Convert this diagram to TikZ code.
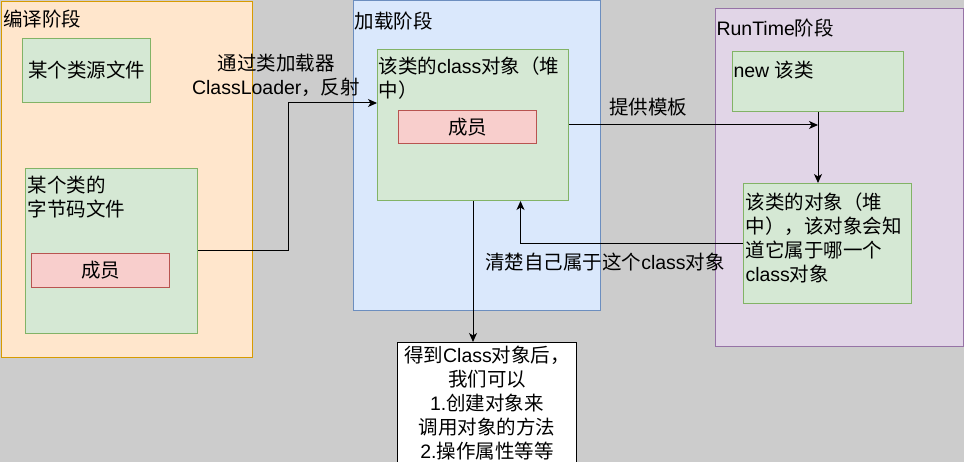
\documentclass[tikz,border=0pt]{standalone}
\usepackage{fontspec}
\usepackage{tikz}
\usepackage{xcolor}
\usetikzlibrary{arrows.meta}
\setmainfont{Liberation Sans}
\newfontfamily\cjkfont{Noto Sans CJK SC}
\newfontfamily\latinfont{Liberation Sans}
% switch to the CJK font for Chinese characters
\XeTeXinterchartokenstate=1
\newXeTeXintercharclass\CJKclass
\newcount\charidx
\newcommand\setcjkrange[2]{\charidx=#1\relax\loop\XeTeXcharclass\charidx=\CJKclass\advance\charidx by 1\relax\ifnum\charidx<#2\repeat}
\setcjkrange{"3000}{"3040}
\setcjkrange{"4E00}{"A000}
\setcjkrange{"FF00}{"FFF0}
\XeTeXinterchartoks 0 \CJKclass = {\cjkfont}
\XeTeXinterchartoks 4095 \CJKclass = {\cjkfont}
\XeTeXinterchartoks \CJKclass 0 = {\latinfont}
\XeTeXinterchartoks \CJKclass 4095 = {\latinfont}
\definecolor{GrayBG}{HTML}{CCCCCC}
\definecolor{OrangeNC}{HTML}{FFE6CC}
\definecolor{DarkOrangeNC}{HTML}{D79B00}
\definecolor{BlueNC}{HTML}{DAE8FC}
\definecolor{DarkBlueNC}{HTML}{6C8EBF}
\definecolor{PurpleNC}{HTML}{E1D5E7}
\definecolor{DarkPurpleNC}{HTML}{9673A6}
\definecolor{GreenNC}{HTML}{D5E8D4}
\definecolor{DarkGreenNC}{HTML}{82B366}
\definecolor{RedNC}{HTML}{F8CECC}
\definecolor{DarkRedNC}{HTML}{B85450}
\tikzstyle{mynodestyle} = [rectangle, inner sep=0pt, anchor=north west, text=black]
\tikzstyle{ob} = [mynodestyle, draw=DarkOrangeNC, fill=OrangeNC]
\tikzstyle{bb} = [mynodestyle, draw=DarkBlueNC, fill=BlueNC]
\tikzstyle{pb} = [mynodestyle, draw=DarkPurpleNC, fill=PurpleNC]
\tikzstyle{gb} = [mynodestyle, draw=DarkGreenNC, fill=GreenNC]
\tikzstyle{rb} = [mynodestyle, draw=DarkRedNC, fill=RedNC]
\tikzstyle{wb} = [mynodestyle, draw=black, fill=white, align=center]
\tikzstyle{tl} = [anchor=north west, inner sep=0pt, align=left, text=black]
\tikzset{>={Stealth[length=9pt,width=8pt,inset=2.5pt]}, every picture/.style={line width=1pt}}
\begin{document}
\begin{tikzpicture}[x=1pt, y=-1pt, font=\fontsize{19.5}{24}\selectfont]
\useasboundingbox (0,0) rectangle (964,462);
\fill[GrayBG] (0,0) rectangle (964,462);
\clip (0,0) rectangle (964,462);
% stages
\node[ob, minimum width=251, minimum height=356] (comp) at (0.5,1) {};
\node[bb, minimum width=247, minimum height=310] (load) at (353,0.5) {};
\node[pb, minimum width=248, minimum height=338] (run) at (715,8) {};
\node[tl] (comptxt) at ([shift={(2,9)}]comp.north west) {编译阶段};
\node[tl] (loadtxt) at ([shift={(1,11)}]load.north west) {加载阶段};
\node[tl] (runtxt) at ([shift={(1,11)}]run.north west) {RunTime阶段};
% boxes
\node[gb, minimum width=128, minimum height=64] (src) at (22,38) {某个类源文件};
\node[gb, minimum width=172, minimum height=165] (byte) at (25,168) {};
\node[tl] (bytetxt) at ([shift={(2,8)}]byte.north west) {某个类的\\字节码文件};
\node[rb, minimum width=138, minimum height=34] (mem1) at (31,253) {成员};
\node[gb, minimum width=191, minimum height=151] (cls) at (377,49) {};
\node[tl] (clstxt) at ([shift={(1,7)}]cls.north west) {该类的class对象（堆\\中）};
\node[rb, minimum width=138, minimum height=33] (mem2) at (398,110) {成员};
\node[gb, minimum width=171, minimum height=60] (newobj) at (732,51) {};
\node[tl] (newtxt) at ([shift={(1,10)}]newobj.north west) {new 该类};
\node[gb, minimum width=168, minimum height=120] (obj) at (743,183) {};
\node[tl] (objtxt) at ([shift={(2,9)}]obj.north west) {该类的对象（堆\\中），该对象会知\\道它属于哪一个\\class对象};
\node[wb, minimum width=179, minimum height=121] (result) at (397,342) {得到Class对象后，\\我们可以\\1.创建对象来\\调用对象的方法\\2.操作属性等等};
% connectors
\coordinate (clsin) at ([yshift=-54pt]cls.north west);
\coordinate (tmpl) at (newobj.south |- cls.east);
\coordinate (clsback) at ([xshift=47.5pt]cls.south);
\draw [->] (byte.east) -- ++(90,0) |- (clsin);
\draw [->] (cls.east) -- (tmpl);
\draw [->] (newobj.south) -- (newobj.south |- obj.north);
\draw [->] (obj.west) -| (clsback);
\draw [->] (cls.south) -- (cls.south |- result.north);
\node[align=center] (loadlbl) at (276,75.5) {通过类加载器\\ClassLoader，反射};
\node (tmpllbl) at (648,107) {提供模板};
\node (backlbl) at (605,262) {清楚自己属于这个class对象};
\end{tikzpicture}
\end{document}
